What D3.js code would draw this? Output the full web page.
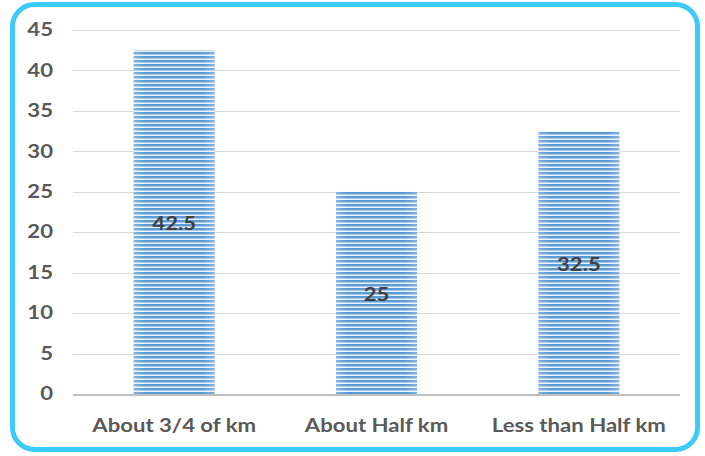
<!DOCTYPE html>
<html>
<head>
<meta charset="utf-8">
<script src="https://cdn.jsdelivr.net/npm/d3@7/dist/d3.min.js"></script>
<style>
  html, body { margin: 0; padding: 0; background: #ffffff; }
  svg { display: block; }
  text { font-family: Lato, "Open Sans", sans-serif; font-weight: bold; }
</style>
</head>
<body>
<svg id="chart" width="705" height="456"></svg>
<script>
// Distance categories and their shares
const categories = ["About 3/4 of km", "About Half km", "Less than Half km"];
const values = [42.5, 25, 32.5];
const yTicks = [0, 5, 10, 15, 20, 25, 30, 35, 40, 45];

const W = 705, H = 456;
const margin = { left: 73, right: 25, top: 30, bottom: 62 };
const stretch = 1.23;   // wide lettering

const svg = d3.select("#chart");

// Striped fill for the bars
const defs = svg.append("defs");
const pat = defs.append("pattern")
  .attr("id", "stripes")
  .attr("patternUnits", "userSpaceOnUse")
  .attr("width", 8).attr("height", 4);
pat.append("rect").attr("width", 8).attr("height", 4).attr("fill", "#eaf2fb");
pat.append("rect").attr("y", 0).attr("width", 8).attr("height", 2).attr("fill", "#5b9bd5");
pat.append("rect").attr("y", 2).attr("width", 8).attr("height", 1).attr("fill", "#a9c9ea");

const edge = defs.append("linearGradient").attr("id", "edgeFade")
  .attr("x1", "0").attr("x2", "1").attr("y1", "0").attr("y2", "0");
edge.append("stop").attr("offset", "0").attr("stop-color", "#ffffff").attr("stop-opacity", 0.25);
edge.append("stop").attr("offset", "0.15").attr("stop-color", "#ffffff").attr("stop-opacity", 0);
edge.append("stop").attr("offset", "0.85").attr("stop-color", "#ffffff").attr("stop-opacity", 0);
edge.append("stop").attr("offset", "1").attr("stop-color", "#ffffff").attr("stop-opacity", 0.25);

const x = d3.scaleBand()
  .domain(categories)
  .range([margin.left, W - margin.right])
  .paddingInner(0.6)
  .paddingOuter(0.3);

const y = d3.scaleLinear()
  .domain([0, 45])
  .range([H - margin.bottom, margin.top]);

// Gridlines
svg.append("g")
  .selectAll("line")
  .data(yTicks.filter(d => d > 0))
  .join("line")
  .attr("x1", margin.left).attr("x2", W - margin.right)
  .attr("y1", d => Math.round(y(d)) + 0.5).attr("y2", d => Math.round(y(d)) + 0.5)
  .attr("stroke", "#d9d9d9").attr("stroke-width", 1);

// Y axis labels
const yAxis = d3.axisLeft(y).tickValues(yTicks).tickSize(0).tickPadding(0);
const gy = svg.append("g")
  .attr("transform", `translate(${margin.left - 20},0)`)
  .call(yAxis);
gy.select(".domain").remove();
gy.selectAll("text")
  .attr("fill", "#595959")
  .attr("transform", `scale(${stretch},1)`)
  .style("font-size", "18px")
  .style("font-family", "Lato, 'Open Sans', sans-serif")
  .style("font-weight", "bold");

// Bars
const bars = svg.append("g");
bars.selectAll("rect.bar")
  .data(values)
  .join("rect")
  .attr("class", "bar")
  .attr("x", (d, i) => x(categories[i]))
  .attr("y", d => y(d))
  .attr("width", x.bandwidth())
  .attr("height", d => y(0) - y(d))
  .attr("fill", "url(#stripes)");
bars.selectAll("rect.fade")
  .data(values)
  .join("rect")
  .attr("class", "fade")
  .attr("x", (d, i) => x(categories[i]))
  .attr("y", d => y(d))
  .attr("width", x.bandwidth())
  .attr("height", d => y(0) - y(d))
  .attr("fill", "url(#edgeFade)");

// Baseline
svg.append("line")
  .attr("x1", margin.left).attr("x2", W - margin.right)
  .attr("y1", y(0) + 1).attr("y2", y(0) + 1)
  .attr("stroke", "#bfbfbf").attr("stroke-width", 2);

// Value labels, centered in each bar
svg.append("g")
  .selectAll("text")
  .data(values)
  .join("text")
  .attr("transform", (d, i) =>
    `translate(${x(categories[i]) + x.bandwidth() / 2},${(y(d) + y(0)) / 2 + 2}) scale(${stretch},1)`)
  .attr("dy", "0.35em")
  .attr("text-anchor", "middle")
  .attr("fill", "#404040")
  .style("font-size", "18px")
  .text(d => d);

// Category labels
const xAxis = d3.axisBottom(x).tickSize(0).tickPadding(0);
const gx = svg.append("g")
  .attr("transform", `translate(0,${y(0) + 25})`)
  .call(xAxis);
gx.select(".domain").remove();
gx.selectAll("text")
  .attr("fill", "#595959")
  .attr("transform", `scale(${stretch},1)`)
  .style("font-size", "18px")
  .style("font-family", "Lato, 'Open Sans', sans-serif")
  .style("font-weight", "bold");

// Rounded frame
svg.append("rect")
  .attr("x", 12.5).attr("y", 4.5)
  .attr("width", 685).attr("height", 445)
  .attr("rx", 22).attr("ry", 22)
  .attr("fill", "none")
  .attr("stroke", "#3ccbf8")
  .attr("stroke-width", 5);
</script>
</body>
</html>
